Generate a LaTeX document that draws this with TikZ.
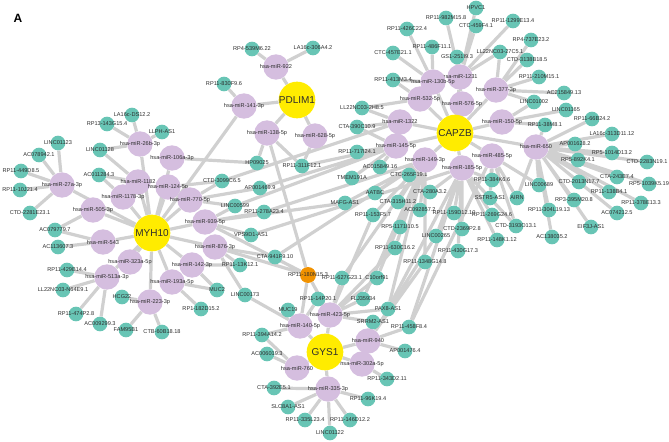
\documentclass[tikz,border=0pt]{standalone}
\usepackage{fontspec}
\setmainfont{Liberation Sans}
\usepackage{tikz}

\definecolor{lncfill}{RGB}{104,197,181}
\definecolor{mirfill}{RGB}{213,190,223}
\definecolor{hubfill}{RGB}{255,236,0}
\definecolor{hotfill}{RGB}{241,146,0}
\definecolor{edgegray}{RGB}{208,208,208}
\definecolor{labeltext}{RGB}{45,45,45}

\pgfdeclarelayer{bg}
\pgfsetlayers{bg,main}

\begin{document}
\begin{tikzpicture}[x=0.75pt,y=0.75pt,yscale=-1,xscale=1,
	lbltext/.style={font=\fontsize{4.2}{5}\selectfont,text=labeltext,inner sep=0pt},
	lnc/.style={circle,fill=lncfill,inner sep=0pt,minimum size=11pt,label={[lbltext]center:#1}},
	mir/.style={circle,fill=mirfill,inner sep=0pt,minimum size=19pt,label={[lbltext]center:#1}},
	hot/.style={circle,fill=hotfill,inner sep=0pt,minimum size=12pt,label={[lbltext]center:#1}},
	hub/.style={circle,fill=hubfill,inner sep=0pt,minimum size=27.5pt,font=\fontsize{7.5}{8}\selectfont,text=labeltext},
	link/.style={draw=edgegray,line width=2.4pt}]
	\useasboundingbox (0,0) rectangle (669,442);

	% Panel letter
	\node[font=\bfseries\fontsize{9}{10}\selectfont] (panel) at (18,18) {A};

	%lncRNA nodes - MYH10 side
	\node[lnc=LA16c-DS12.2] (la16ds) at (132,115) {};
	\node[lnc=RP13-143G15.4] (rp13) at (107,124) {};
	\node[lnc=LLPH-AS1] (llph) at (162,132) {};
	\node[lnc=LINC01123] (linc1123) at (58,143) {};
	\node[lnc=AC078942.1] (ac078942) at (39,155) {};
	\node[lnc=LINC01128] (linc1128) at (100,150) {};
	\node[lnc=RP11-449D8.5] (rp449) at (21,171) {};
	\node[lnc=RP11-10J21.4] (rp10j) at (20,190) {};
	\node[lnc=AC011284.3] (ac011284) at (99,175) {};
	\node[lnc=CTD-2281E23.1] (ctd2281) at (30,213) {};
	\node[lnc=AC079779.7] (ac079779) at (55,230) {};
	\node[lnc=AC113607.3] (ac113607) at (58,247) {};
	\node[lnc=RP11-429B14.4] (rp429) at (67,270) {};
	\node[lnc=LL22NC03-N64E9.1] (ll22n64) at (63,290) {};
	\node[lnc=HCG22] (hcg22) at (122,297) {};
	\node[lnc=RP11-474P2.8] (rp474) at (76,314) {};
	\node[lnc=AC009299.3] (ac009299) at (100,324) {};
	\node[lnc=FAM95B1] (fam95) at (126,330) {};
	\node[lnc=CTB-60B18.18] (ctb60) at (162,332) {};
	\node[lnc=MUC2] (muc2) at (217,290) {};
	\node[lnc=RP1-182D15.2] (rp1182) at (201,309) {};
	\node[lnc=RP11-13K12.1] (rp13k) at (240,265) {};
	\node[lnc=LINC00173] (linc173) at (245,295) {};
	\node[lnc=CTA-941F9.10] (cta941) at (275,257) {};
	\node[lnc=VPS9D1-AS1] (vps9) at (251,235) {};
	\node[lnc=RP11-278A23.4] (rp278) at (264,212) {};
	\node[lnc=LINC00599] (linc599) at (235,206) {};
	\node[lnc=AP001469.9] (ap001469) at (260,188) {};
	\node[lnc=CTD-3099C6.5] (ctd3099) at (222,181) {};
	\node[lnc=HP09025] (hp09025) at (257,163) {};
	\node[lnc=RP11-311F12.1] (rp311) at (302,166) {};

	%lncRNA nodes - PDLIM1 side
	\node[lnc=RP4-539M6.22] (rp4539) at (252,49) {};
	\node[lnc=LA16c-306A4.2] (la16306) at (313,48) {};
	\node[lnc=RP11-830F9.6] (rp830) at (224,84) {};

	%lncRNA nodes - CAPZB side
	\node[lnc=HPVC1] (hpvc1) at (476,8) {};
	\node[lnc=RP11-982M15.8] (rp982) at (446,18) {};
	\node[lnc=RP11-426C22.4] (rp426) at (407,29) {};
	\node[lnc=CTC-457E21.1] (ctc457) at (393,53) {};
	\node[lnc=RP11-486F11.1] (rp486) at (432,47) {};
	\node[lnc=GS1-251I9.3] (gs1) at (457,57) {};
	\node[lnc=CTC-459F4.1] (ctc459) at (476,26) {};
	\node[lnc=RP11-1299E13.4] (rp1299) at (513,21) {};
	\node[lnc=LL22NC03-27C5.1] (ll22c5) at (500,52) {};
	\node[lnc=RP4-737E23.2] (rp4737) at (531,40) {};
	\node[lnc=CTD-3138B18.5] (ctd3138) at (527,60) {};
	\node[lnc=RP11-210M15.1] (rp210) at (539,77) {};
	\node[lnc=RP11-413M3.4] (rp413) at (393,80) {};
	\node[lnc=AC215849.13] (ac215849) at (564,93) {};
	\node[lnc=LINC01002] (linc1002) at (534,102) {};
	\node[lnc=LINC01165] (linc1165) at (566,110) {};
	\node[lnc=LL22NC03-2H8.5] (ll22h8) at (362,108) {};
	\node[lnc=CTA-390C10.9] (cta390) at (357,127) {};
	\node[lnc=RP11-38M8.1] (rp38m) at (545,125) {};
	\node[lnc=RP11-66B24.2] (rp66b) at (592,119) {};
	\node[lnc=LA16c-313D11.12] (la16313) at (612,134) {};
	\node[lnc=AP001628.2] (ap001628) at (575,144) {};
	\node[lnc=RP5-1014D13.2] (rp51014) at (612,153) {};
	\node[lnc=CTD-2283N19.1] (ctd2283) at (647,162) {};
	\node[lnc=RP5-892K4.1] (rp5892) at (578,160) {};
	\node[lnc=RP11-717I24.1] (rp717) at (357,152) {};
	\node[lnc=AC015849.16] (ac015849) at (380,167) {};
	\node[lnc=TMEM191A] (tmem) at (352,178) {};
	\node[lnc=CTC-265F19.1] (ctc265) at (409,175) {};
	\node[lnc=AATBC] (aatbc) at (375,193) {};
	\node[lnc=CTA-280A3.2] (cta280) at (430,192) {};
	\node[lnc=RP11-384K6.6] (rp384) at (492,180) {};
	\node[lnc=LINC00689] (linc689) at (539,185) {};
	\node[lnc=CTA-243E7.4] (cta243) at (617,177) {};
	\node[lnc=RP5-1039K5.19] (rp51039) at (649,184) {};
	\node[lnc=CTD-2013N17.7] (ctd2013) at (579,182) {};
	\node[lnc=RP11-138B4.1] (rp138b) at (609,192) {};
	\node[lnc=MAFG-AS1] (mafg) at (345,203) {};
	\node[lnc=CTA-315H11.2] (cta315) at (398,202) {};
	\node[lnc=SSTR5-AS1] (sstr5) at (490,198) {};
	\node[lnc=AIRN] (airn) at (517,198) {};
	\node[lnc=RP3-395M20.8] (rp3395) at (574,200) {};
	\node[lnc=RP11-378E13.3] (rp378) at (641,203) {};
	\node[lnc=RP11-153F5.7] (rp153) at (373,215) {};
	\node[lnc=AC092857.2] (ac092857) at (420,210) {};
	\node[lnc=RP11-159D12.10] (rp159) at (454,213) {};
	\node[lnc=RP11-269G24.6] (rp269) at (492,215) {};
	\node[lnc=RP11-304L19.13] (rp304) at (549,210) {};
	\node[lnc=AC074212.5] (ac074212) at (617,213) {};
	\node[lnc=CTD-3193O13.1] (ctd3193) at (516,226) {};
	\node[lnc=EIF3J-AS1] (eif3j) at (591,227) {};
	\node[lnc=RP5-1171I10.5] (rp5117) at (400,227) {};
	\node[lnc=CTD-2369P2.8] (ctd2369) at (462,229) {};
	\node[lnc=LINC00265] (linc265) at (436,236) {};
	\node[lnc=RP11-148K1.12] (rp148k) at (497,240) {};
	\node[lnc=AC138035.2] (ac138035) at (552,237) {};
	\node[lnc=RP11-630C16.2] (rp630) at (395,248) {};
	\node[lnc=RP11-430G17.3] (rp430) at (458,251) {};
	\node[lnc=RP11-1348G14.8] (rp1348) at (425,262) {};

	%lncRNA nodes - GYS1 side
	\node[lnc=RP11-627G23.1] (rp627) at (342,278) {};
	\node[lnc=C10orf91] (c10) at (377,278) {};
	\node[lnc=FLJ35934] (flj) at (363,299) {};
	\node[lnc=RP11-14P20.1] (rp14p) at (318,299) {};
	\node[lnc=PAX8-AS1] (pax8) at (388,309) {};
	\node[lnc=MUC19] (muc19) at (288,310) {};
	\node[lnc=SRRM2-AS1] (srrm2) at (373,322) {};
	\node[lnc=RP11-458F8.4] (rp458) at (409,327) {};
	\node[lnc=RP11-394A14.2] (rp394) at (262,335) {};
	\node[lnc=AP001476.4] (ap001476) at (405,351) {};
	\node[lnc=AC006019.3] (ac006019) at (267,354) {};
	\node[lnc=RP11-343D2.11] (rp343) at (387,379) {};
	\node[lnc=CTA-392E5.1] (cta392) at (274,388) {};
	\node[lnc=RP11-96K19.4] (rp96k) at (368,399) {};
	\node[lnc=SLC8A1-AS1] (slc8) at (288,407) {};
	\node[lnc=RP11-335L23.4] (rp335l) at (305,420) {};
	\node[lnc=RP11-146D12.2] (rp146) at (350,420) {};
	\node[lnc=LINC01122] (linc1122) at (330,433) {};

	% shared lncRNA
	\node[hot=RP11-180N15.3] (rp180) at (308,275) {};

	%miRNA nodes
	\node[mir=hsa-miR-26b-3p] (m26b) at (140,144) {};
	\node[mir=hsa-miR-27a-3p] (m27a) at (62,185) {};
	\node[mir=hsa-miR-1182] (m1182) at (138,182) {};
	\node[mir=hsa-miR-106a-3p] (m106a) at (172,158) {};
	\node[mir=hsa-miR-124-5p] (m124) at (168,187) {};
	\node[mir=hsa-miR-1178-3p] (m1178) at (123,197) {};
	\node[mir=hsa-miR-505-3p] (m505) at (93,210) {};
	\node[mir=hsa-miR-543] (m543) at (103,242) {};
	\node[mir=hsa-miR-323a-5p] (m323) at (130,262) {};
	\node[mir=hsa-miR-513a-3p] (m513) at (107,277) {};
	\node[mir=hsa-miR-223-3p] (m223) at (150,302) {};
	\node[mir=hsa-miR-193a-5p] (m193) at (172,282) {};
	\node[mir=hsa-miR-142-3p] (m142) at (192,265) {};
	\node[mir=hsa-miR-876-3p] (m876) at (215,247) {};
	\node[mir=hsa-miR-939-5p] (m939) at (205,222) {};
	\node[mir=hsa-miR-770-5p] (m770) at (190,200) {};
	\node[mir=hsa-miR-922] (m922) at (276,67) {};
	\node[mir=hsa-miR-141-3p] (m141) at (244,106) {};
	\node[mir=hsa-miR-138-5p] (m138) at (267,133) {};
	\node[mir=hsa-miR-628-5p] (m628) at (315,136) {};
	\node[mir=hsa-miR-1231] (m1231) at (460,77) {};
	\node[mir=hsa-miR-130b-5p] (m130b) at (433,82) {};
	\node[mir=hsa-miR-377-3p] (m377) at (496,90) {};
	\node[mir=hsa-miR-532-5p] (m532) at (420,99) {};
	\node[mir=hsa-miR-576-5p] (m576) at (462,104) {};
	\node[mir=hsa-miR-1322] (m1322) at (400,122) {};
	\node[mir=hsa-miR-150-5p] (m150) at (502,122) {};
	\node[mir=hsa-miR-650] (m650) at (536,147) {};
	\node[mir=hsa-miR-145-5p] (m145) at (396,146) {};
	\node[mir=hsa-miR-149-3p] (m149) at (425,160) {};
	\node[mir=hsa-miR-185-5p] (m185) at (462,168) {};
	\node[mir=hsa-miR-485-5p] (m485) at (492,156) {};
	\node[mir=hsa-miR-423-5p] (m423) at (330,315) {};
	\node[mir=hsa-miR-140-5p] (m140) at (300,326) {};
	\node[mir=hsa-miR-940] (m940) at (368,341) {};
	\node[mir=hsa-miR-302a-5p] (m302) at (362,364) {};
	\node[mir=hsa-miR-760] (m760) at (297,368) {};
	\node[mir=hsa-miR-335-3p] (m335) at (328,389) {};

	%mRNA hubs
	\node[hub] (myh) at (152,233) {MYH10};
	\node[hub] (pdlim) at (297,100) {PDLIM1};
	\node[hub] (capzb) at (455,133) {CAPZB};
	\node[hub] (gys1) at (325,352) {GYS1};

	\begin{pgfonlayer}{bg}
	% hub -- miRNA
	\draw[link] (myh) -- (m26b) (myh) -- (m106a) (myh) -- (m1182) (myh) -- (m124) (myh) -- (m1178) (myh) -- (m27a) (myh) -- (m505) (myh) -- (m543) (myh) -- (m323) (myh) -- (m513) (myh) -- (m223) (myh) -- (m193) (myh) -- (m142) (myh) -- (m876) (myh) -- (m939) (myh) -- (m770) (myh) -- (m141);
	\draw[link] (pdlim) -- (m922) (pdlim) -- (m141) (pdlim) -- (m138) (pdlim) -- (m628);
	\draw[link] (capzb) -- (m1231) (capzb) -- (m130b) (capzb) -- (m532) (capzb) -- (m576) (capzb) -- (m377) (capzb) -- (m150) (capzb) -- (m1322) (capzb) -- (m145) (capzb) -- (m149) (capzb) -- (m185) (capzb) -- (m485) (capzb) -- (m650);
	\draw[link] (gys1) -- (m140) (gys1) -- (m423) (gys1) -- (m940) (gys1) -- (m302) (gys1) -- (m335) (gys1) -- (m760);

	% miRNA -- lncRNA, MYH10 side
	\draw[link] (m26b) -- (la16ds) (m26b) -- (rp13) (m26b) -- (llph) (m26b) -- (linc1128);
	\draw[link] (m27a) -- (linc1123) (m27a) -- (ac078942) (m27a) -- (rp449) (m27a) -- (rp10j) (m27a) -- (ctd2281);
	\draw[link] (m1182) -- (ac011284) (m1182) -- (linc1128) (m1178) -- (ac011284);
	\draw[link] (m505) -- (ac079779) (m543) -- (ac113607) (m543) -- (ac079779);
	\draw[link] (m513) -- (rp429) (m513) -- (ll22n64) (m513) -- (rp474) (m513) -- (ac009299);
	\draw[link] (m223) -- (hcg22) (m223) -- (fam95) (m223) -- (ctb60);
	\draw[link] (m193) -- (muc2) (m193) -- (rp1182) (m142) -- (rp13k) (m142) -- (muc2);
	\draw[link] (m876) -- (cta941) (m876) -- (linc173) (m876) -- (rp13k);
	\draw[link] (m939) -- (vps9) (m939) -- (rp278) (m939) -- (linc599) (m939) -- (mafg);
	\draw[link] (m770) -- (ctd3099) (m770) -- (ap001469) (m770) -- (linc599) (m124) -- (ctd3099) (m106a) -- (hp09025);

	% miRNA -- lncRNA, PDLIM1 side
	\draw[link] (m922) -- (rp4539) (m922) -- (la16306) (m141) -- (rp830);
	\draw[link] (m138) -- (hp09025) (m138) -- (rp311) (m138) -- (rp180) (m628) -- (rp311);

	% miRNA -- lncRNA, CAPZB side
	\draw[link] (m1231) -- (rp982) (m1231) -- (hpvc1) (m1231) -- (ctc459) (m1231) -- (gs1) (m1231) -- (rp1299) (m1231) -- (ll22c5);
	\draw[link] (m130b) -- (rp426) (m130b) -- (ctc457) (m130b) -- (rp486) (m130b) -- (rp413);
	\draw[link] (m532) -- (ll22h8) (m532) -- (rp413) (m576) -- (gs1);
	\draw[link] (m377) -- (rp4737) (m377) -- (ctd3138) (m377) -- (rp210) (m377) -- (linc1002) (m377) -- (ac215849) (m377) -- (ll22c5);
	\draw[link] (m150) -- (linc1165) (m150) -- (rp38m) (m150) -- (linc1002);
	\draw[link] (m1322) -- (ll22h8) (m1322) -- (cta390) (m1322) -- (ctd3099);
	\draw[link] (m145) -- (cta390) (m145) -- (rp717) (m145) -- (ac015849) (m145) -- (tmem) (m145) -- (rp311) (m145) -- (ap001469) (m145) -- (linc599);
	\draw[link] (m650) -- (rp66b) (m650) -- (la16313) (m650) -- (ap001628) (m650) -- (rp51014) (m650) -- (ctd2283) (m650) -- (rp5892) (m650) -- (cta243) (m650) -- (rp51039) (m650) -- (linc689) (m650) -- (ctd2013) (m650) -- (rp138b) (m650) -- (rp3395) (m650) -- (rp378) (m650) -- (rp304) (m650) -- (ac074212) (m650) -- (eif3j) (m650) -- (ac138035) (m650) -- (airn) (m650) -- (rp38m);
	\draw[link] (m485) -- (rp384) (m485) -- (linc689) (m485) -- (ctd3193) (m485) -- (sstr5) (m485) -- (airn) (m485) -- (rp458);
	\draw[link] (m185) -- (rp384) (m185) -- (sstr5) (m185) -- (rp269) (m185) -- (ctd3193) (m185) -- (rp148k) (m185) -- (ctd2369) (m185) -- (rp430) (m185) -- (rp159) (m185) -- (linc265) (m185) -- (cta280) (m185) -- (vps9) (m185) -- (pax8) (m185) -- (rp458);
	\draw[link] (m149) -- (ctc265) (m149) -- (ac092857) (m149) -- (cta315) (m149) -- (rp5117) (m149) -- (rp630) (m149) -- (rp1348) (m149) -- (aatbc) (m149) -- (rp153) (m149) -- (mafg) (m149) -- (c10) (m149) -- (rp627) (m149) -- (flj) (m149) -- (rp278) (m149) -- (cta941) (m149) -- (pax8);

	% miRNA -- lncRNA, GYS1 side
	\draw[link] (m423) -- (flj) (m423) -- (srrm2) (m423) -- (pax8) (m423) -- (c10) (m423) -- (rp14p) (m423) -- (rp630) (m423) -- (rp153) (m423) -- (rp180) (m423) -- (rp627);
	\draw[link] (m940) -- (ap001476) (m940) -- (rp458) (m940) -- (srrm2) (m940) -- (rp1348) (m940) -- (linc265);
	\draw[link] (m302) -- (rp343);
	\draw[link] (m140) -- (muc19) (m140) -- (rp394) (m140) -- (linc173) (m140) -- (rp14p) (m140) -- (rp180);
	\draw[link] (m760) -- (ac006019) (m760) -- (rp394);
	\draw[link] (m335) -- (cta392) (m335) -- (slc8) (m335) -- (rp335l) (m335) -- (linc1122) (m335) -- (rp146) (m335) -- (rp96k);
	\draw[link] (rp180) -- (m939) (rp180) -- (m876);
	\end{pgfonlayer}
\end{tikzpicture}
\end{document}
